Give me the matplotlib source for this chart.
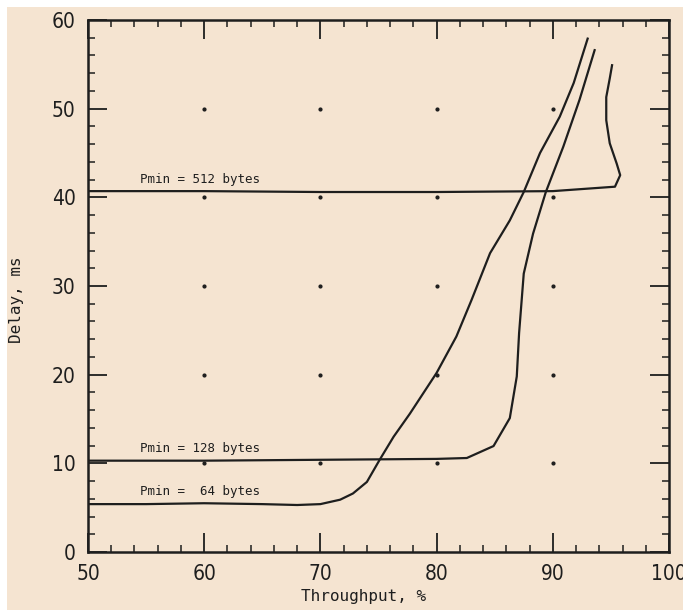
import numpy as np
import matplotlib.pyplot as plt
from matplotlib.patches import Rectangle
from matplotlib.ticker import MultipleLocator

# curves (throughput %, delay ms)
p64_x = [50, 55, 60, 65, 68, 70, 71.7, 72.8, 74.0, 75.1, 76.3, 77.7, 80.0, 81.7,
         83.0, 84.6, 86.3, 87.5, 88.9, 90.6, 91.8, 93.0]
p64_y = [5.4, 5.4, 5.5, 5.4, 5.3, 5.4, 5.9, 6.6, 7.9, 10.4, 13.0, 15.6, 20.2, 24.3,
         28.4, 33.7, 37.4, 40.6, 45.0, 49.1, 52.9, 57.9]

p128_x = [50, 60, 70, 80, 82.6, 84.9, 86.3, 86.9, 87.1, 87.5, 88.3, 89.4, 90.9, 92.3, 93.6]
p128_y = [10.3, 10.3, 10.4, 10.5, 10.6, 11.95, 15.1, 19.8, 24.7, 31.4, 35.9, 40.6, 45.7, 51.0, 56.6]

p512_x = [50, 60, 70, 80, 90, 95.35, 95.8, 95.5, 94.9, 94.6, 94.6, 94.9, 95.1]
p512_y = [40.7, 40.7, 40.6, 40.6, 40.7, 41.2, 42.5, 43.8, 46.1, 48.7, 51.3, 53.4, 54.9]

labels = ['Pmin = 512 bytes', 'Pmin = 128 bytes', 'Pmin =  64 bytes']
label_x = [54.5, 54.5, 54.5]
label_y = [41.3, 10.9, 6.1]

dot_x = [60, 70, 80, 90]
dot_y = [10, 20, 30, 40, 50]

bg = '#f5e4d1'
ink = '#1e1e1e'
mono = ['DejaVu Sans Mono', 'Liberation Mono']
narrow = ['Liberation Sans Narrow', 'DejaVu Sans']

W, H = 683, 610
fig = plt.figure(figsize=(W / 100, H / 100), dpi=100, facecolor='white')
fig.patches.append(Rectangle((7 / W, 0), 1, (H - 7) / H, transform=fig.transFigure,
                             facecolor=bg, edgecolor='none', zorder=-5))

ax = fig.add_axes([88 / W, (H - 552) / H, (669 - 88) / W, (552 - 20) / H])
ax.set_facecolor(bg)

for xs, ys in [(p64_x, p64_y), (p128_x, p128_y), (p512_x, p512_y)]:
    ax.plot(xs, ys, color=ink, lw=1.6, solid_joinstyle='round')

gx, gy = np.meshgrid(dot_x, dot_y)
ax.scatter(gx.ravel(), gy.ravel(), s=4, color=ink, zorder=3)

for t, x, y in zip(labels, label_x, label_y):
    ax.text(x, y, t, family=mono, fontsize=9, color=ink, va='bottom', ha='left')

ax.set_xlim(50, 100)
ax.set_ylim(0, 60)
ax.xaxis.set_major_locator(MultipleLocator(10))
ax.xaxis.set_minor_locator(MultipleLocator(2))
ax.yaxis.set_major_locator(MultipleLocator(10))
ax.yaxis.set_minor_locator(MultipleLocator(2))
ax.tick_params(which='both', direction='in', top=True, right=True, colors=ink)
ax.tick_params(which='major', length=14, width=1.3, labelsize=15, pad=9)
ax.tick_params(which='minor', length=5, width=1.1)
for lab in ax.get_xticklabels() + ax.get_yticklabels():
    lab.set_family(narrow)
    lab.set_fontstretch('condensed')
    lab.set_fontweight('light')
for s in ax.spines.values():
    s.set_linewidth(1.8)
    s.set_color(ink)

fig.text(364 / W, (H - 597) / H, 'Throughput, %', family=mono, fontsize=11.5,
         color=ink, ha='center', va='center')
fig.text(17 / W, (H - 300) / H, 'Delay, ms', family=mono, fontsize=11.5,
         color=ink, ha='center', va='center', rotation=90)

fig.savefig('out.png', dpi=100, facecolor='white')
